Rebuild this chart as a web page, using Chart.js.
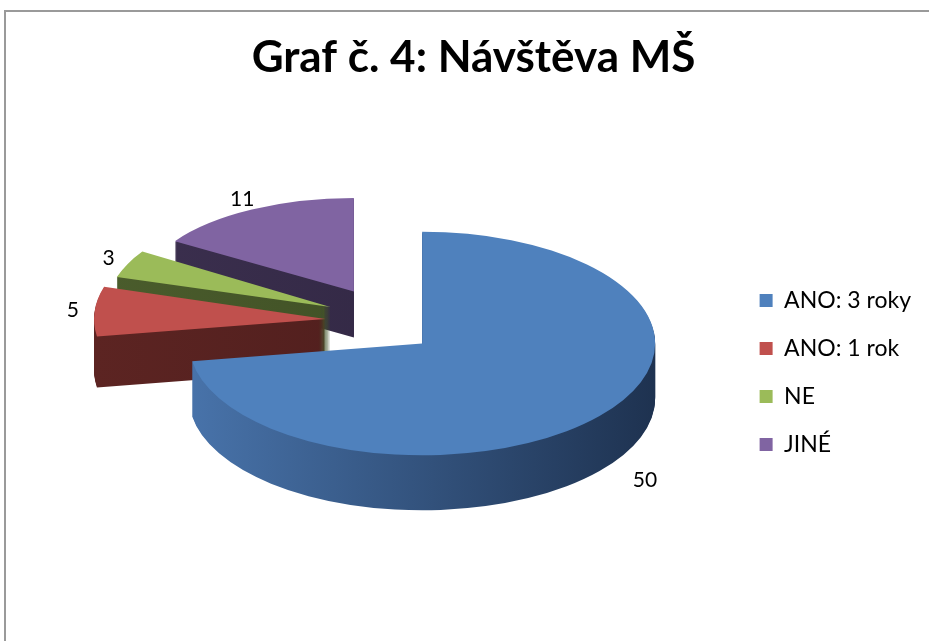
<!DOCTYPE html>
<html>
<head>
<meta charset="utf-8">
<script src="https://cdn.jsdelivr.net/npm/chart.js@4.4.1/dist/chart.umd.min.js"></script>
<style>
    html, body { margin: 0; padding: 0; background: #fff; overflow: hidden; }
    #ramecek { position: absolute; left: 4px; top: 10px; width: 960px; height: 660px; border-left: 2px solid #9a9a9a; border-top: 2px solid #9a9a9a; }
    #obal { position: absolute; left: 0; top: 0; width: 929px; height: 641px; }
</style>
</head>
<body>
<div id="ramecek"></div>
<div id="obal"><canvas id="graf4"></canvas></div>
<script>
// data z grafu
const kategorie = ['ANO: 3 roky', 'ANO: 1 rok', 'NE', 'JINÉ'];
const pocty = [50, 5, 3, 11];

// barvy horni plochy a boku (levy / pravy okraj gradientu)
const barvy = ['#4F81BD', '#C0504D', '#9BBB59', '#8064A2'];
const barvyBok = [['#4873AA', '#1E3250'], ['#5C2422', '#4A1C1B'], ['#4A5C2C', '#3B4A22'], ['#3B2F4E', '#2E2540']];

const SKLON = 0.48;      // zplosteni elipsy
const HLOUBKA = 51;      // vyska boku v px
const VYSUN = 55;        // vysunuti vyseci
const VYSUN_Y = 0.62;
const POSUN_Y = -51;     // posun kolace nahoru proti stredu plochy

// zadni vysece trochu zmensit a snizit (nahrada perspektivy)
function sklon(mid) { return SKLON + 0.09 * Math.min(0, Math.sin(mid)); }
function sirka(mid) { return 1 + 0.1 * Math.min(0, Math.sin(mid)); }
function hloubka(mid) { return Math.round(HLOUBKA + 6 * Math.sin(mid)); }

function stredVysece(arc) {
    const mid = (arc.startAngle + arc.endAngle) / 2;
    return {
        mid: mid,
        x: arc.x + Math.cos(mid) * VYSUN,
        y: arc.y + POSUN_Y + Math.sin(mid) * VYSUN * VYSUN_Y
    };
}

function kresliVysec(ctx, arc, dy, barva) {
    const s = stredVysece(arc);
    ctx.save();
    ctx.translate(s.x, s.y + dy);
    ctx.scale(sirka(s.mid), sklon(s.mid));
    ctx.translate(-arc.x, -arc.y);
    if (barva) {
        const puvodni = arc.options;
        arc.options = Object.assign({}, puvodni, { backgroundColor: barva, borderColor: barva, borderWidth: 0 });
        arc.draw(ctx);
        arc.options = puvodni;
    } else {
        arc.draw(ctx);
    }
    ctx.restore();
}

const kolac3d = {
    id: 'kolac3d',
    beforeDatasetsDraw(chart) {
        const ctx = chart.ctx;
        const oblouky = chart.getDatasetMeta(0).data;
        const poradi = [3, 2, 1, 0];
        poradi.forEach(function (i) {
            const arc = oblouky[i];
            const s = stredVysece(arc);
            const g = ctx.createLinearGradient(arc.x - arc.outerRadius, 0, arc.x + arc.outerRadius, 0);
            g.addColorStop(0, barvyBok[i][0]);
            g.addColorStop(1, barvyBok[i][1]);
            for (let d = hloubka(s.mid); d >= 1; d--) {
                kresliVysec(ctx, arc, d, g);
            }
            kresliVysec(ctx, arc, 0, null);
        });
        return false;
    },
    afterDraw(chart) {
        const ctx = chart.ctx;
        const oblouky = chart.getDatasetMeta(0).data;
        ctx.save();
        ctx.font = '21px Lato';
        ctx.fillStyle = '#000';
        ctx.textAlign = 'center';
        ctx.textBaseline = 'middle';
        oblouky.forEach(function (arc, i) {
            const s = stredVysece(arc);
            const sn = Math.sin(s.mid);
            const rx = (arc.outerRadius + 22) * sirka(s.mid) + 58 * Math.max(0, sn);
            const ry = arc.outerRadius + 28;
            const x = s.x + Math.cos(s.mid) * rx;
            const y = s.y + sn * ry * sklon(s.mid) + (sn > 0 ? hloubka(s.mid) : 0);
            ctx.fillText(String(pocty[i]), x, y);
        });
        ctx.restore();
    }
};

new Chart(document.getElementById('graf4'), {
    type: 'pie',
    data: {
        labels: kategorie,
        datasets: [{
            data: pocty,
            backgroundColor: barvy,
            borderWidth: 0
        }]
    },
    options: {
        responsive: true,
        maintainAspectRatio: false,
        animation: false,
        events: [],
        radius: 233,
        layout: { padding: { left: 26, right: 8, bottom: 0 } },
        plugins: {
            title: {
                display: true,
                text: 'Graf č. 4: Návštěva MŠ',
                color: '#000',
                font: { family: 'Lato', size: 44, weight: 'bold' },
                padding: { top: 31, bottom: 20 }
            },
            legend: {
                position: 'right',
                title: { display: true, text: ' ', font: { size: 20 }, padding: 40 },
                labels: {
                    boxWidth: 13,
                    boxHeight: 13,
                    padding: 25,
                    color: '#000',
                    font: { family: 'Lato', size: 23 }
                }
            },
            tooltip: { enabled: false }
        }
    },
    plugins: [kolac3d]
});
</script>
</body>
</html>
